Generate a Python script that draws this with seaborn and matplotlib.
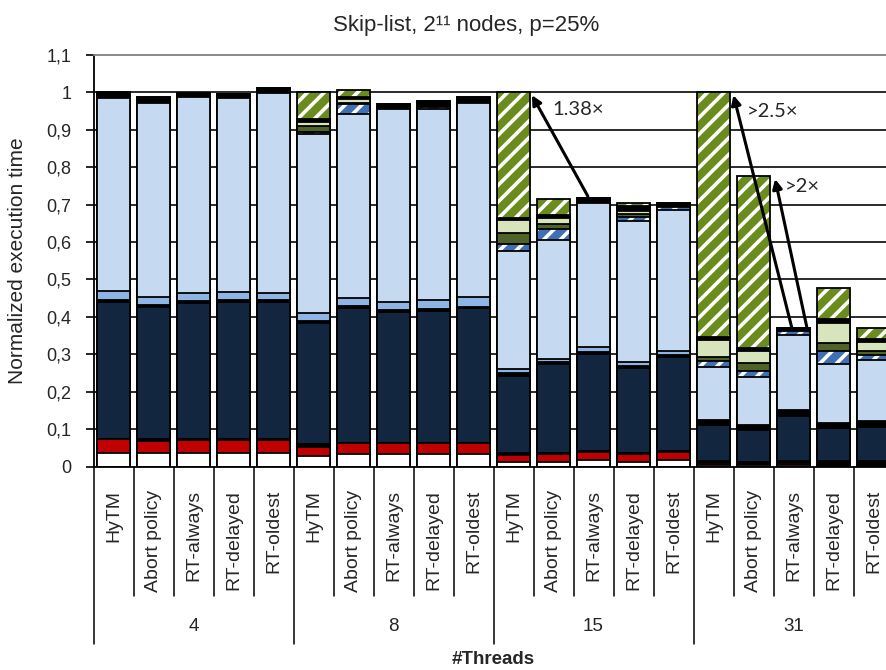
import numpy as np
import pandas as pd
import matplotlib
matplotlib.use("Agg")
import matplotlib.pyplot as plt
import matplotlib.colors as mcolors
import matplotlib.transforms as mtransforms
import seaborn as sns

# ---- data -----------------------------------------------------------------
thread_counts = ["4", "8", "15", "31"]
policies = ["HyTM", "Abort policy", "RT-always", "RT-delayed", "RT-oldest"]

# Execution-time components (normalized to HyTM), one value per bar,
# bars ordered by thread count, then policy.
seg_white = [.037, .037, .037, .037, .037, .029, .034, .034, .034, .034,
             .013, .013, .018, .013, .018, .004, .004, .004, .003, .003]
seg_red = [.036, .032, .035, .035, .035, .024, .028, .028, .028, .028,
           .018, .021, .022, .020, .022, .006, .004, .006, .001, .001]
seg_black_low = [.002, .004, .002, .002, .002, .008, .002, .002, .002, .002,
                 .006, .002, .002, .003, .002, .005, .004, .004, .012, .012]
seg_navy = [.365, .354, .364, .366, .366, .322, .359, .350, .353, .359,
            .205, .238, .259, .227, .250, .096, .086, .121, .086, .091]
seg_black_mid = [.005, .005, .004, .005, .005, .007, .005, .004, .004, .004,
                 .008, .006, .004, .005, .005, .012, .011, .015, .012, .012]
seg_midblue = [.023, .022, .021, .022, .018, .020, .022, .023, .024, .027,
               .010, .007, .015, .012, .012, .003, .002, .002, .002, .002]
seg_lightblue = [.517, .516, .525, .517, .534, .478, .491, .513, .509, .516,
                 .317, .318, .383, .377, .376, .141, .128, .200, .158, .164]
seg_bluehatch = [0, 0, 0, 0, 0, .006, .027, 0, .006, 0,
                 .018, .030, 0, .010, .009, .015, .017, .010, .036, .013]
seg_darkgreen = [0, 0, 0, 0, 0, .016, .004, 0, .003, 0,
                 .030, .013, 0, .009, 0, .012, .020, 0, .021, .012]
seg_lightgreen = [0, 0, 0, 0, 0, .011, .010, 0, .004, 0,
                  .034, .016, 0, .008, 0, .044, .034, 0, .054, .024]
seg_black_top = [.015, .016, .009, .011, .013, .007, .004, .015, .010, .016,
                 .004, .007, .015, .011, .011, .008, .006, .008, .009, .006]
seg_greenhatch = [0, 0, 0, 0, 0, .072, .019, 0, 0, 0,
                  .337, .043, 0, .010, 0, .654, .460, 0, .082, .031]

yticks = [0, .1, .2, .3, .4, .5, .6, .7, .8, .9, 1.0, 1.1]
ytick_labels = ["0", "0,1", "0,2", "0,3", "0,4", "0,5", "0,6", "0,7",
                "0,8", "0,9", "1", "1,1"]

# speed-up callouts: (from bar, to bar, text)
callouts = [(12, 10, "1.38×"), (17, 15, ">2.5×"), (17, 16, ">2×")]

# ---- styling ----------------------------------------------------------------
layers = [
    ("white", seg_white, "#FFFFFF", None),
    ("red", seg_red, "#C00000", None),
    ("black_low", seg_black_low, "#000000", None),
    ("navy", seg_navy, "#12263F", None),
    ("black_mid", seg_black_mid, "#000000", None),
    ("midblue", seg_midblue, "#8DB4E2", None),
    ("lightblue", seg_lightblue, "#C5D9F1", None),
    ("bluehatch", seg_bluehatch, "#3F6FB5", "//"),
    ("darkgreen", seg_darkgreen, "#4F6228", None),
    ("lightgreen", seg_lightgreen, "#D8E4BC", None),
    ("black_top", seg_black_top, "#000000", None),
    ("greenhatch", seg_greenhatch, "#6A8C1C", "//"),
]

sns.set_style("white")
plt.rcParams["font.family"] = ["Liberation Sans", "DejaVu Sans"]
plt.rcParams["hatch.linewidth"] = 2.6
plt.rcParams["hatch.color"] = "white"

bar_ids = [f"{t}|{p}" for t in thread_counts for p in policies]
df = pd.DataFrame({"bar": bar_ids})
for name, vals, _, _ in layers:
    df[name] = vals
cum = df[[l[0] for l in layers]].cumsum(axis=1)
for name, *_ in layers:
    df["cum_" + name] = cum[name]

fig = plt.figure(figsize=(8.86, 6.70), dpi=100)
ax = fig.add_axes([93.5 / 886, (670 - 466.7) / 670, 800 / 886, 412 / 670])

# stacked bars: draw cumulative totals from the top layer down
for name, vals, color, hatch in reversed(layers):
    n_before = len(ax.patches)
    sns.barplot(data=df, x="bar", y="cum_" + name, order=bar_ids, color=color,
                saturation=1, width=0.835, edgecolor="black", linewidth=1.3,
                errorbar=None, ax=ax)
    if hatch:
        for p in ax.patches[n_before:]:
            p.set_hatch(hatch)
            if hasattr(p, "set_hatchcolor"):
                p.set_hatchcolor("white")
            else:
                p._hatch_color = mcolors.to_rgba("white")

ax.set_xlim(-0.5, 19.5)
ax.set_ylim(0, 1.1)
ax.set_yticks(yticks)
ax.set_yticklabels(ytick_labels, fontsize=13)
ax.tick_params(axis="y", length=6, width=1.2, pad=10, direction="out",
               left=True, color="black")
ax.set_xticks([])
ax.set_xlabel("")
ax.set_ylabel("Normalized execution time", fontsize=15, labelpad=14)

for v in yticks[1:-1]:
    ax.axhline(v, color="#1a1a1a", lw=1.3, zorder=0.5)

for side in ["left", "bottom"]:
    ax.spines[side].set_color("black")
    ax.spines[side].set_linewidth(1.3)
ax.spines["top"].set_color("#808080")
ax.spines["top"].set_linewidth(1.3)
ax.spines["right"].set_visible(False)

# multi-level category axis
blend = mtransforms.blended_transform_factory(ax.transData, ax.transAxes)
for k in range(21):
    low = -0.430 if k % 5 == 0 else -0.314
    ax.plot([k - 0.5, k - 0.5], [0, low], transform=blend, color="black",
            lw=1.1, clip_on=False)
for i, bid in enumerate(bar_ids):
    ax.text(i, -0.056, bid.split("|")[1], transform=blend, rotation=90,
            ha="center", va="top", fontsize=14, clip_on=False)
for g, t in enumerate(thread_counts):
    ax.text(g * 5 + 2, -0.389, t, transform=blend, ha="center", va="center",
            fontsize=13.5, clip_on=False)
ax.text(9.5, -0.469, "#Threads", transform=blend, ha="center", va="center",
        fontsize=13.5, fontweight="bold", clip_on=False)

fig.text(466.5 / 886, 1 - 25 / 670, "Skip-list, 2¹¹ nodes, p=25%",
         ha="center", va="center", fontsize=16)

# speed-up arrows between bar tops
totals = df[[l[0] for l in layers]].sum(axis=1).values
arrow_ends = {(12, 10): (11.86, 10.46), (17, 15): (16.95, 15.5), (17, 16): (17.33, 16.54)}
text_pos = {(12, 10): (10.96, 0.953), (17, 15): (15.83, 0.948), (17, 16): (16.79, 0.748)}
for src, dst, label in callouts:
    xs, xd = arrow_ends[(src, dst)]
    ax.annotate("", xy=(xd, totals[dst] - 0.008), xytext=(xs, totals[src] + 0.004),
                arrowprops=dict(arrowstyle="-|>", color="black", lw=2.2,
                                mutation_scale=14, shrinkA=0, shrinkB=0),
                zorder=6)
    tx, ty = text_pos[(src, dst)]
    ax.text(tx, ty, label, ha="left", va="center", fontsize=14.5,
            family=["Lato", "DejaVu Sans"], zorder=6)

fig.savefig("out.png", dpi=100)
